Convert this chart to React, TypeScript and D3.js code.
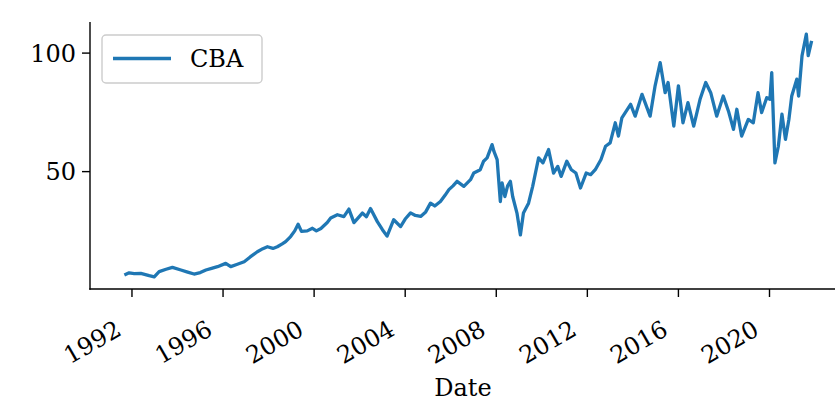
import React from "react";
import * as d3 from "d3";

const dates: string[] = [
  "1991-09-01","1991-11-17","1992-02-06","1992-05-21","1992-10-04","1992-12-23","1993-03-12","1993-07-01","1993-10-11","1994-02-24",
  "1994-06-12","1994-09-23","1995-01-01","1995-04-01","1995-07-01","1995-10-04","1996-02-13","1996-05-03","1996-08-07","1996-12-05",
  "1997-03-12","1997-07-04","1997-10-01","1997-12-13","1998-03-12","1998-05-21","1998-08-07","1998-10-01","1998-12-20","1999-02-24",
  "1999-04-19","1999-06-12","1999-09-13","1999-12-05","2000-02-06","2000-04-19","2000-07-30","2000-09-23","2001-01-08","2001-04-22",
  "2001-07-12","2001-10-01","2002-02-13","2002-04-19","2002-06-24","2002-10-11","2003-01-01","2003-03-16","2003-07-01","2003-10-19",
  "2004-01-01","2004-03-27","2004-06-12","2004-09-05","2004-11-25","2005-02-10","2005-04-19","2005-07-19","2005-10-01","2005-12-02",
  "2006-02-06","2006-04-12","2006-07-30","2006-11-14","2007-01-05","2007-04-19","2007-06-12","2007-08-07","2007-10-26","2007-11-25",
  "2008-01-15","2008-03-06","2008-04-04","2008-05-18","2008-07-01","2008-08-14","2008-09-20","2008-11-28","2009-01-22","2009-03-12",
  "2009-06-02","2009-08-07","2009-11-10","2010-01-19","2010-04-19","2010-07-08","2010-09-13","2010-11-07","2011-02-06","2011-04-19",
  "2011-07-01","2011-09-13","2011-12-13","2012-02-24","2012-05-07","2012-08-07","2012-10-19","2013-01-01","2013-03-24","2013-05-14",
  "2013-07-08","2013-11-25","2014-02-06","2014-05-27","2014-10-04","2014-12-23","2015-03-14","2015-06-02","2015-07-19","2015-10-19",
  "2016-01-01","2016-03-14","2016-06-02","2016-09-02","2016-12-13","2017-03-14","2017-06-02","2017-09-06","2017-12-20","2018-03-14",
  "2018-06-02","2018-07-26","2018-10-11","2019-01-26","2019-04-16","2019-07-01","2019-08-28","2019-11-17","2020-01-08","2020-02-06",
  "2020-03-28","2020-05-22","2020-07-19","2020-09-13","2020-11-07","2020-12-23","2021-03-14","2021-04-12","2021-06-06","2021-08-14",
  "2021-09-13","2021-11-07",
];

const cba: number[] = [
  6.4, 7.3, 7.0, 7.1, 6.1, 5.6, 7.8, 8.8, 9.6, 8.5,
  7.6, 6.8, 7.4, 8.5, 9.2, 9.9, 11.3, 9.9, 10.8, 12.0,
  14.0, 16.2, 17.5, 18.3, 17.6, 18.3, 19.5, 20.5, 22.6, 25.0,
  27.8, 24.8, 25.0, 26.1, 25.0, 26.0, 28.5, 30.4, 31.8, 31.0,
  34.2, 28.5, 32.5, 31.0, 34.4, 28.9, 25.5, 22.8, 29.7, 26.8,
  30.0, 32.6, 31.5, 31.1, 33.0, 36.7, 35.5, 37.4, 40.0, 42.4,
  44.0, 45.9, 43.8, 46.6, 49.4, 50.8, 54.4, 55.8, 61.4, 58.5,
  55.1, 37.4, 45.2, 39.5, 44.0, 45.9, 39.5, 32.5, 23.3, 32.5,
  36.7, 43.8, 55.8, 53.7, 59.3, 49.4, 52.2, 48.0, 54.4, 50.8,
  49.4, 43.1, 49.4, 48.7, 50.8, 55.1, 60.7, 62.1, 70.6, 65.0,
  72.7, 78.4, 73.4, 82.6, 73.4, 86.2, 96.0, 83.3, 87.6, 69.2,
  86.2, 70.6, 79.1, 69.2, 80.5, 87.6, 83.3, 73.4, 81.9, 75.5,
  67.8, 76.3, 65.0, 72.0, 70.6, 83.3, 74.9, 81.2, 80.5, 91.8,
  53.7, 60.7, 74.2, 63.6, 72.0, 81.9, 89.0, 81.9, 98.9, 108.0,
  98.9, 105.2,
];

const seriesName = "CBA";
const yTickValues = [50, 100];
const xLabel = "Date";

const W = 835;
const H = 403;
const FONT = "'DejaVu Serif', serif";

export default function App() {
  const parse = d3.timeParse("%Y-%m-%d");
  const data = dates.map((d, i) => ({ date: parse(d) as Date, value: cba[i] }));

  const [t0, t1] = d3.extent(data, (d) => +d.date) as [number, number];
  const xPad = (t1 - t0) * 0.05;
  const [v0, v1] = d3.extent(data, (d) => d.value) as [number, number];
  const yPad = (v1 - v0) * 0.05;

  const left = 90, right = 846, top = 22, bottom = 289;
  const x = d3.scaleTime().domain([new Date(t0 - xPad), new Date(t1 + xPad)]).range([left, right]);
  const y = d3.scaleLinear().domain([v0 - yPad, v1 + yPad]).range([bottom, top]);

  const line = d3.line<{ date: Date; value: number }>().x((d) => x(d.date)).y((d) => y(d.value));
  const xTicks = x.ticks(d3.timeYear.every(4) as d3.TimeInterval);
  const fmt = d3.timeFormat("%Y");
  const tickLen = 8;

  return (
    <svg width={W} height={H} style={{ position: "absolute", left: 0, top: 0, background: "#fff" }}>
      <defs>
        <clipPath id="plot">
          <rect x={left} y={0} width={right - left} height={bottom + 2} />
        </clipPath>
      </defs>
      <path d={line(data) || ""} fill="none" stroke="#1f77b4" strokeWidth={3.3} strokeLinejoin="round" clipPath="url(#plot)" />
      {/* spines */}
      <line x1={left} x2={left} y1={top} y2={bottom + 0.7} stroke="#000" strokeWidth={1.4} />
      <line x1={left - 0.7} x2={right} y1={bottom} y2={bottom} stroke="#000" strokeWidth={1.4} />
      {/* y ticks */}
      {yTickValues.map((v) => (
        <g key={v}>
          <line x1={left - tickLen} x2={left} y1={y(v)} y2={y(v)} stroke="#000" strokeWidth={1.4} />
          <text x={left - tickLen - 6} y={y(v)} dy="0.36em" textAnchor="end" fontFamily={FONT} fontSize={24} fill="#000">
            {v}
          </text>
        </g>
      ))}
      {/* x ticks */}
      {xTicks.map((t) => {
        const px = x(t);
        const tx = px - 9;
        const ty = bottom + tickLen + 37;
        return (
          <g key={+t}>
            <line x1={px} x2={px} y1={bottom} y2={bottom + tickLen} stroke="#000" strokeWidth={1.4} />
            <text x={tx} y={ty} textAnchor="end" transform={`rotate(-30 ${tx} ${ty})`} fontFamily={FONT} fontSize={24} fill="#000">
              {fmt(t)}
            </text>
          </g>
        );
      })}
      <text x={463} y={396} textAnchor="middle" fontFamily={FONT} fontSize={24} fill="#000">
        {xLabel}
      </text>
      {/* legend */}
      <rect x={102} y={35} width={160} height={48} rx={4} fill="#fff" fillOpacity={0.8} stroke="#cccccc" strokeWidth={1.4} />
      <line x1={113} x2={171} y1={58.5} y2={58.5} stroke="#1f77b4" strokeWidth={3.3} />
      <text x={190} y={67} fontFamily={FONT} fontSize={24} fill="#000">
        {seriesName}
      </text>
    </svg>
  );
}
